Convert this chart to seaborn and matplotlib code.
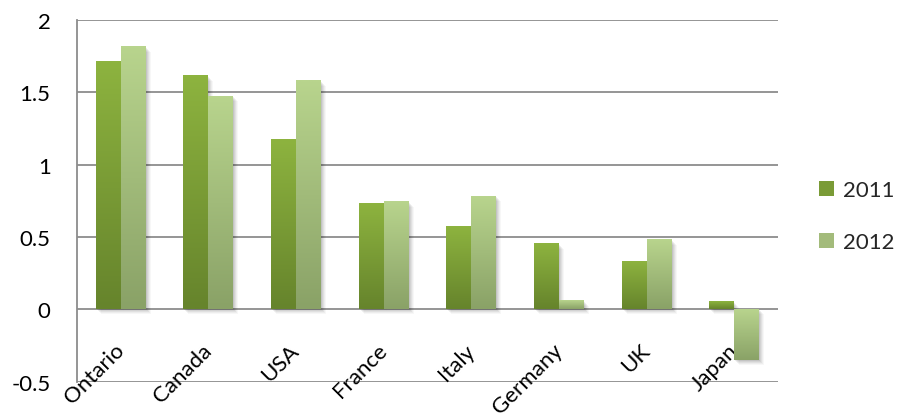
import numpy as np
import pandas as pd
import matplotlib
matplotlib.use("Agg")
import matplotlib.pyplot as plt
import matplotlib.transforms as mtransforms
from matplotlib.patches import Rectangle, Patch
from matplotlib.colors import to_rgb
import seaborn as sns

countries = ["Ontario", "Canada", "USA", "France", "Italy", "Germany", "UK", "Japan"]
years = ["2011", "2012"]
values_2011 = [1.71, 1.61, 1.17, 0.73, 0.57, 0.45, 0.33, 0.05]
values_2012 = [1.81, 1.47, 1.58, 0.74, 0.78, 0.06, 0.48, -0.35]
y_ticks = [-0.5, 0, 0.5, 1, 1.5, 2]
y_tick_labels = ["-0.5", "0", "0.5", "1", "1.5", "2"]

df = pd.DataFrame({
    "country": countries * 2,
    "year": [years[0]] * len(countries) + [years[1]] * len(countries),
    "value": values_2011 + values_2012,
})

# gradient colours (top, bottom) per series
grad = {
    "2011": ("#8db33f", "#66842c"),
    "2012": ("#b8d48d", "#8aa267"),
}
mid = {"2011": "#7a9b36", "2012": "#a3bb7b"}

sns.set_theme(style="white")
plt.rcParams["font.family"] = ["Lato", "DejaVu Sans"]

fig = plt.figure(figsize=(9.08, 4.14), dpi=100)
ax = fig.add_axes([0.0848, 0.0756, 0.857 - 0.0848, 0.95 - 0.0756])

sns.barplot(data=df, x="country", y="value", hue="year", order=countries,
            hue_order=years, palette=[mid[y] for y in years], width=0.57,
            saturation=1, dodge=True, legend=False, ax=ax, zorder=3)

ax.set_ylim(-0.5, 2)
ax.set_xlim(-0.5, len(countries) - 0.5)

grid_color = "#8c8c8c"
for yv in y_ticks:
    ax.axhline(yv, color=grid_color, lw=1.3, zorder=0)

# gradients and shadows
for cont, yr in zip(ax.containers, years):
    top_c = np.array(to_rgb(grad[yr][0]))
    bot_c = np.array(to_rgb(grad[yr][1]))
    for p in cont.patches:
        x0, w = p.get_x(), p.get_width()
        y0, h = p.get_y(), p.get_height()
        lo, hi = min(y0, y0 + h), max(y0, y0 + h)
        for dx, dy, a in [(1, -1, 0.07), (2, -2, 0.06), (3, -3, 0.05), (4, -4, 0.04), (5, -5, 0.03)]:
            tr = mtransforms.offset_copy(ax.transData, fig=fig, x=dx, y=dy, units="dots")
            ax.add_patch(Rectangle((x0, lo), w, hi - lo, transform=tr,
                                   facecolor="black", alpha=a, lw=0, zorder=1))
        t = np.linspace(0, 1, 64)[:, None]
        img = bot_c[None, :] * (1 - t) + top_c[None, :] * t
        img = img[:, None, :]
        ax.imshow(img, extent=[x0, x0 + w, lo, hi], origin="lower",
                  aspect="auto", zorder=3, interpolation="bilinear")
        p.set_visible(False)

ax.set_ylim(-0.5, 2)
ax.set_xlim(-0.5, len(countries) - 0.5)

ax.set_yticks(y_ticks)
ax.set_yticklabels(y_tick_labels)
ax.tick_params(axis="y", length=0, pad=19, labelsize=16, labelcolor="black")

ax.spines["bottom"].set_position(("data", 0))
ax.spines["bottom"].set_visible(False)
for s in ["top", "right"]:
    ax.spines[s].set_visible(False)
ax.spines["left"].set_color(grid_color)
ax.spines["left"].set_linewidth(1.3)

ax.set_xticks(range(len(countries)))
ax.set_xticklabels(countries, rotation=45, ha="right", va="center",
                   rotation_mode="anchor", fontsize=16)
ax.tick_params(axis="x", length=0, pad=27, labelcolor="black")
ax.set_xlabel("")
ax.set_ylabel("")
ax.grid(False)

handles = [Patch(facecolor=mid[y], edgecolor="none") for y in years]
fig.legend(handles, years, loc="center left", bbox_to_anchor=(0.89, 0.475),
           frameon=False, fontsize=16, handlelength=0.65, handleheight=0.65,
           handletextpad=0.4, labelspacing=1.45, borderpad=0)

fig.savefig("out.png", dpi=100)
